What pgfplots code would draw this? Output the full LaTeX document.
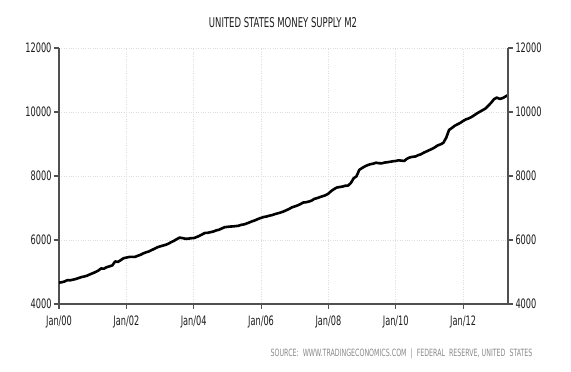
\documentclass[border=0pt]{standalone}
\usepackage{pgfplots}
\pgfplotsset{compat=1.18}
\usepackage{pgfplotstable}
\usepackage{fontspec}
\setmainfont[FakeStretch=0.7]{DejaVu Sans Condensed}
\definecolor{axisgray}{HTML}{505050}
\definecolor{gridgray}{HTML}{DDDDDD}
\definecolor{srcgray}{HTML}{8A8A8A}
\definecolor{labcol}{HTML}{1E1E1E}

% month index (0 = Jan 2000), M2 in USD billions
\pgfplotstableread{
m v
0 4667
1 4680
2 4705
3 4745
4 4742
5 4760
6 4782
7 4810
8 4842
9 4860
10 4885
11 4925
12 4960
13 5000
14 5045
15 5110
16 5105
17 5150
18 5178
19 5205
20 5330
21 5315
22 5370
23 5430
24 5450
25 5470
26 5475
27 5470
28 5505
29 5535
30 5580
31 5615
32 5640
33 5685
34 5725
35 5770
36 5800
37 5825
38 5850
39 5885
40 5935
41 5975
42 6030
43 6075
44 6060
45 6040
46 6040
47 6055
48 6060
49 6090
50 6130
51 6175
52 6220
53 6225
54 6245
55 6265
56 6300
57 6320
58 6360
59 6400
60 6410
61 6420
62 6425
63 6435
64 6445
65 6475
66 6490
67 6520
68 6555
69 6590
70 6620
71 6660
72 6690
73 6720
74 6735
75 6760
76 6780
77 6810
78 6835
79 6860
80 6890
81 6930
82 6970
83 7020
84 7050
85 7080
86 7120
87 7170
88 7180
89 7200
90 7230
91 7285
92 7310
93 7340
94 7370
95 7400
96 7450
97 7530
98 7590
99 7640
100 7655
101 7670
102 7695
103 7700
104 7780
105 7930
106 7990
107 8190
108 8250
109 8300
110 8340
111 8370
112 8385
113 8415
114 8400
115 8395
116 8420
117 8430
118 8445
119 8460
120 8470
121 8490
122 8480
123 8470
124 8540
125 8580
126 8600
127 8610
128 8650
129 8680
130 8730
131 8770
132 8810
133 8850
134 8900
135 8960
136 8990
137 9040
138 9200
139 9440
140 9500
141 9570
142 9615
143 9660
144 9720
145 9770
146 9800
147 9845
148 9900
149 9960
150 10010
151 10060
152 10110
153 10200
154 10290
155 10400
156 10450
157 10410
158 10430
159 10480
160 10530
}\mtwo

\begin{document}
\begin{tikzpicture}[x=1pt,y=1pt]
\fill[white] (0,0) rectangle (571,372);
\path[use as bounding box] (0,0) rectangle (571,372);
\pgfplotsset{
  mystyle/.style={
    at={(59pt,68pt)}, anchor=south west,
    scale only axis, width=449pt, height=256pt,
    xmin=0, xmax=160, ymin=4000, ymax=12000,
    ytick={4000,6000,8000,10000,12000},
    scaled ticks=false,
    tick align=outside, major tick length=5pt,
    axis line style={axisgray, line width=1.6pt},
    tick style={axisgray, line width=1.1pt},
    tick label style={font=\fontsize{13}{15}\selectfont, text=labcol},
    /pgf/number format/1000 sep={},
    /pgf/number format/assume math mode=true,
  }
}
\begin{axis}[mystyle,
  axis x line*=bottom, axis y line*=left,
  xtick={0,24,48,72,96,120,144},
  xticklabels={Jan/00,Jan/02,Jan/04,Jan/06,Jan/08,Jan/10,Jan/12},
  xticklabel style={yshift=-3.5pt},
  yticklabel style={xshift=1pt},
  grid=major,
  major grid style={gridgray, dotted, line width=0.8pt},
]
\addplot[black, line width=2.6pt, line join=round, line cap=round] table[x=m,y=v] {\mtwo};
\end{axis}
\begin{axis}[mystyle,
  axis x line=none, axis y line*=right,
  yticklabel style={xshift=-1pt},
]
\end{axis}
\node[font=\fontsize{13.5}{15}\selectfont, text=labcol] at (283,349) {UNITED STATES MONEY SUPPLY M2};
\node[anchor=east, font=\fontsize{10}{12}\selectfont, text=srcgray] at (536,18) {SOURCE:\ \ WWW.TRADINGECONOMICS.COM \ |\ \ FEDERAL\ \ RESERVE,\ UNITED\ \ STATES};
\end{tikzpicture}
\end{document}
